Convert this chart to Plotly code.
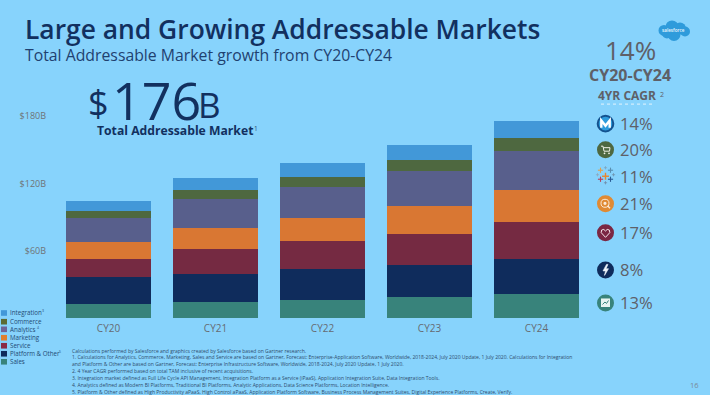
import plotly.graph_objects as go

years = ["CY20", "CY21", "CY22", "CY23", "CY24"]
sales = [12.5, 14.3, 16.4, 18.5, 21.4]
platform = [23.9, 25.0, 27.1, 28.9, 31.6]
service = [16.4, 22.1, 24.8, 27.7, 32.2]
marketing = [14.7, 18.8, 20.8, 25.0, 28.9]
analytics = [21.7, 25.9, 27.7, 30.7, 34.6]
commerce = [6.0, 8.0, 9.2, 10.1, 12.2]
integration = [9.2, 11.0, 12.0, 13.1, 14.9]
y_ticks = [60, 120, 180]
y_tick_labels = ["$60B", "$120B", "$180B"]

series_names = ["Sales", "Platform & Other", "Service", "Marketing", "Analytics", "Commerce", "Integration"]
series_values = [sales, platform, service, marketing, analytics, commerce, integration]
series_colors = ["#38837B", "#0F2C5C", "#752A42", "#D97733", "#585F8C", "#4E6840", "#4298D8"]

legend_labels = ["Integration", "Commerce", "Analytics", "Marketing", "Service", "Platform & Other", "Sales"]
legend_notes = ["3", "", "4", "", "", "5", ""]
legend_colors = ["#4298D8", "#5B6B35", "#6E6397", "#E07F2E", "#8A2B45", "#0F2C5C", "#38837B"]

cagr_labels = ["14%", "20%", "11%", "21%", "17%", "8%", "13%"]
footnotes = [
    "Calculations performed by Salesforce and graphics created by Salesforce based on Gartner research.",
    "1. Calculations for Analytics, Commerce, Marketing, Sales and Service are based on Gartner, Forecast: Enterprise-Application Software, Worldwide, 2018-2024, July 2020 Update, 1 July 2020. Calculations for Integration",
    "and Platform & Other are based on Gartner, Forecast: Enterprise Infrastructure Software, Worldwide, 2018-2024, July 2020 Update, 1 July 2020.",
    "2. 4 Year CAGR performed based on total TAM inclusive of recent acquisitions.",
    "3. Integration market defined as Full Life Cycle API Management, Integration Platform as a Service (iPaaS), Application Integration Suite, Data Integration Tools.",
    "4. Analytics defined as Modern BI Platforms, Traditional BI Platforms, Analytic Applications, Data Science Platforms, Location Intelligence.",
    "5. Platform & Other defined as High Productivity aPaaS, High Control aPaaS, Application Platform Software, Business Process Management Suites, Digital Experience Platforms, Create, Verify.",
]

BG = "#87D3FC"
NAVY = "#12305F"
GRAY = "#5E6068"
FONT = "Open Sans"
L, R, T, B = 55, 120, 105.4, 77
PW, PH = 710 - L - R, 395 - T - B


def fx(x):
    return (x - L) / PW


def fy(y):
    return (395 - B - y) / PH


fig = go.Figure()
for name, vals, col in zip(series_names, series_values, series_colors):
    fig.add_bar(x=years, y=vals, name=name, marker=dict(color=col, line=dict(width=0)), showlegend=False)

annotations = []
shapes = []


def text(x, y, s, size, color=GRAY, anchor="left", weight=None, vanchor="middle", font=FONT):
    f = dict(size=size, color=color, family=font)
    if weight:
        f["weight"] = weight
    annotations.append(dict(x=fx(x), y=fy(y), xref="paper", yref="paper", text=s, showarrow=False,
                            xanchor=anchor, yanchor=vanchor, font=f, align="left",
                            borderpad=0, borderwidth=0))


def circle(cx, cy, r, fill, line=None, lw=0):
    shapes.append(dict(type="circle", xref="paper", yref="paper", x0=fx(cx - r), x1=fx(cx + r),
                       y0=fy(cy + r), y1=fy(cy - r), fillcolor=fill,
                       line=dict(color=line or fill, width=lw), layer="above"))


def rect(x0, y0, x1, y1, fill):
    shapes.append(dict(type="rect", xref="paper", yref="paper", x0=fx(x0), x1=fx(x1),
                       y0=fy(y1), y1=fy(y0), fillcolor=fill, line=dict(width=0), layer="above"))


def poly(pts, color, width=1.2, fill=None, close=False):
    d = "M" + " L".join(f"{fx(a):.5f},{fy(b):.5f}" for a, b in pts) + (" Z" if close else "")
    shapes.append(dict(type="path", xref="paper", yref="paper", path=d, layer="above",
                       fillcolor=fill if fill else "rgba(0,0,0,0)",
                       line=dict(color=color, width=width)))


# headings
text(25, 29.5, "Large and Growing Addressable Markets", 26.4, NAVY, weight=600)
text(25, 55, "Total Addressable Market growth from CY20-CY24", 15.8, "#1F4170")
text(88, 103, "$", 36, NAVY)
text(112, 99.5, "176", 52, NAVY)
text(198, 105, "B", 35, NAVY)
text(97, 131, "Total Addressable Market", 12.2, NAVY, weight=700)
text(258, 129, "1", 6.5, "#2E4C6C", anchor="right")

# right panel
text(630, 51, "14%", 26, GRAY, anchor="center")
text(630, 75, "CY20-CY24", 16, GRAY, anchor="center", weight=700)
text(627, 96, "4YR CAGR", 12, GRAY, anchor="center", weight=700)
text(664, 94.5, "2", 7, GRAY, anchor="right")
shapes.append(dict(type="line", xref="paper", yref="paper", x0=fx(601), x1=fx(655), y0=fy(104.5), y1=fy(104.5),
                   line=dict(color="#E4F3FC", width=1, dash="dot"), layer="above"))

row_y = [124, 150, 177, 204, 233, 270, 303]
ICON_X = 605.5
for lab, ry in zip(cagr_labels, row_y):
    text(619.5, ry, lab, 16.6, GRAY)

# salesforce cloud
for cx, cy, r in [(664, 31, 5.5), (672, 27.5, 6.5), (680, 29, 6), (685, 32, 5), (674, 35, 6.5), (667, 34, 5)]:
    circle(cx, cy, r, "#2F9BDB")
text(673.5, 31, "salesforce", 4.6, "#EAF6FD", anchor="center", weight=600)

# MuleSoft
circle(ICON_X, 124, 7.8, "#2D9BDB", "#14528F", 2)
poly([(601.3, 128), (601.3, 120.8), (605.5, 126.2), (609.7, 120.8), (609.7, 128)], "#FFFFFF", 2.4)

# Commerce
circle(ICON_X, 150, 8.5, "#4E6840")
poly([(601, 146.5), (603, 146.5), (604, 151.5), (609.5, 151.5), (610, 148), (603.5, 148)], "#F2F2E8", 1)
circle(604.5, 153.6, 0.9, "#F2F2E8")
circle(609, 153.6, 0.9, "#F2F2E8")

# Tableau
tab = [(605.5, 176.5, 3.5, "#E8862E", 1.4), (600.5, 170.5, 2.6, "#E0A04A", 1.1), (610.5, 170.5, 2.6, "#5A8FB0", 1.1),
       (600.5, 179.5, 2.6, "#B8405A", 1.1), (610.5, 179.5, 2.6, "#2B5C94", 1.1), (605.5, 168, 1.6, "#7FA4BE", 0.8),
       (597.5, 175, 1.6, "#8FA6BA", 0.8), (613.5, 175, 1.6, "#6E93AD", 0.8), (605.5, 183, 1.6, "#6E8CA8", 0.8)]
for cx, cy, r, c, w in tab:
    poly([(cx - r, cy), (cx + r, cy)], c, w)
    poly([(cx, cy - r), (cx, cy + r)], c, w)

# Marketing
circle(ICON_X, 204, 8.5, "#E08A33")
circle(605, 203.5, 4, "#E08A33", "#FBEBD8", 1)
circle(605, 203.5, 1.6, "#FBEBD8")
poly([(607.5, 206), (610, 208.5)], "#FBEBD8", 1.4)

# Service
circle(ICON_X, 233, 8.5, "#7B2743")
poly([(605.5, 237.5), (601.2, 232.8), (601.6, 230.2), (603.8, 229.6), (605.5, 231.2), (607.2, 229.6),
      (609.4, 230.2), (609.8, 232.8)], "#F5E5EA", 1, close=True)

# Platform
circle(ICON_X, 270, 8.5, "#0F2C5C")
poly([(606.5, 264.5), (603, 271), (605.5, 271), (604.5, 275.5), (608.5, 268.8), (606, 268.8), (608, 264.5)],
     "#EDF3FA", 0.6, fill="#EDF3FA", close=True)

# Sales
circle(ICON_X, 303, 8.5, "#38837B")
rect(601, 298.5, 610, 307, "#E8F4F1")
poly([(602.5, 304.5), (605, 302), (606.5, 303.5), (608.5, 300.5)], "#38837B", 1)

# legend
leg_y = [313, 321.7, 329.3, 337.7, 345.7, 353.7, 361.7]
note_x = [43, 0, 38, 0, 0, 60, 0]
for lab, note, nx, col, ly in zip(legend_labels, legend_notes, note_x, legend_colors, leg_y):
    rect(1, ly - 2.8, 7, ly + 2.8, col)
    text(10.3, ly, lab, 6.2, "#1F4A73")
    if note:
        text(nx, ly - 2, note, 3.5, "#1F4A73", anchor="center")

# footnotes
foot_y = [350.8, 357.3, 364.2, 371, 378, 384.8, 391.7]
for line, ly in zip(footnotes, foot_y):
    text(72, ly, line, 5, "#2E4C6C")

text(694, 385, "16", 7.5, "#7A8A98", anchor="center")

fig.update_layout(
    width=710, height=395, autosize=False, barmode="stack", bargap=22 / 107,
    paper_bgcolor=BG, plot_bgcolor=BG, showlegend=False,
    margin=dict(l=L, r=R, t=T, b=B, pad=0),
    font=dict(family=FONT, color=GRAY),
    xaxis=dict(showgrid=False, showline=False, zeroline=False, ticks="", tickfont=dict(size=10, color="#666B72"),
               ticklabelstandoff=3),
    yaxis=dict(range=[0, 190], tickvals=y_ticks, ticktext=y_tick_labels, showgrid=False, showline=False,
               zeroline=False, ticks="", tickfont=dict(size=9, color="#6F7377"), ticklabelstandoff=8),
    annotations=annotations, shapes=shapes,
)
fig.write_html("out.html", config=dict(displayModeBar=False),
               post_script="document.body.style.margin='0';document.body.style.overflow='hidden';")
